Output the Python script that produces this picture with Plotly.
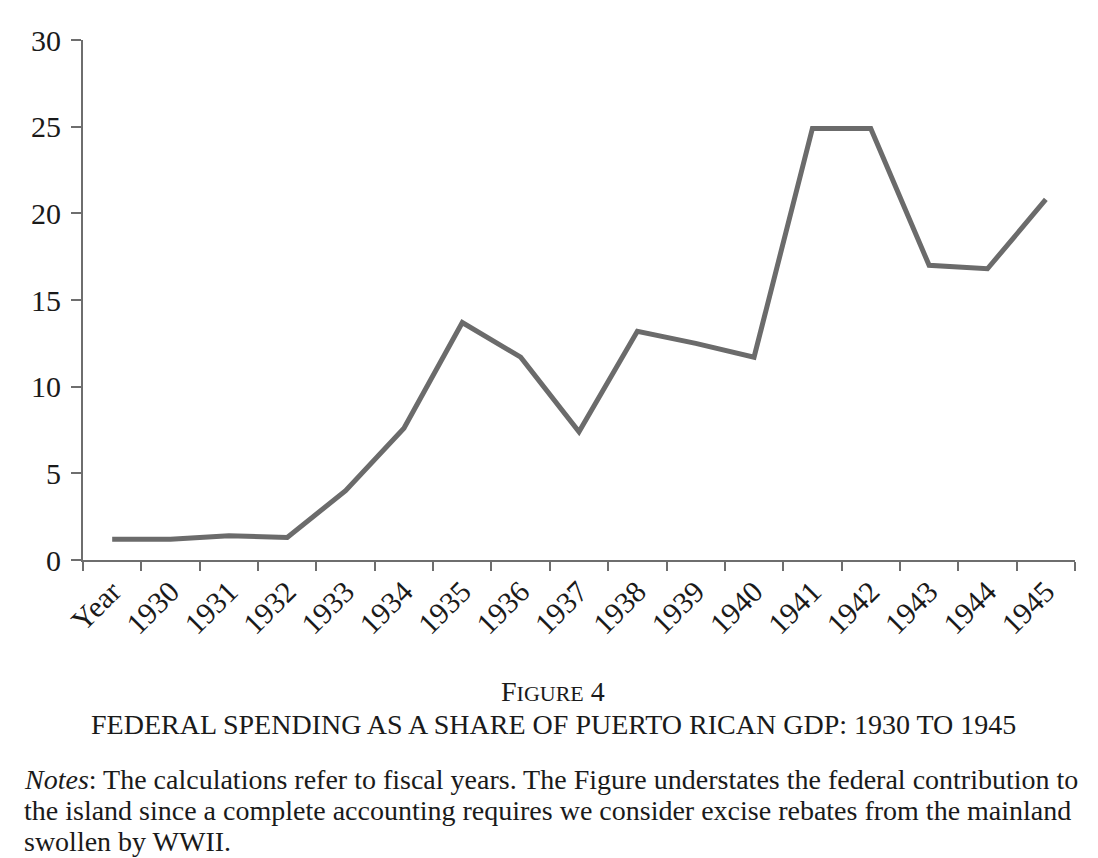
import plotly.graph_objects as go

categories = ["Year", "1930", "1931", "1932", "1933", "1934", "1935", "1936", "1937",
              "1938", "1939", "1940", "1941", "1942", "1943", "1944", "1945"]
values = [1.2, 1.2, 1.4, 1.3, 4.0, 7.6, 13.7, 11.7, 7.4,
          13.2, 12.5, 11.7, 24.9, 24.9, 17.0, 16.8, 20.8]
y_ticks = [0, 5, 10, 15, 20, 25, 30]

caption_line1 = "F<span style='font-size:22px'>IGURE</span> 4"
caption_line2 = "FEDERAL SPENDING AS A SHARE OF PUERTO RICAN GDP: 1930 TO 1945"
notes_lines = [
    "<i>Notes</i>: The calculations refer to fiscal years. The Figure understates the federal contribution to",
    "the island since a complete accounting requires we consider excise rebates from the mainland",
    "swollen by WWII.",
]

FONT = "Liberation Serif"
AXIS = "#6e6e6e"
TEXT = "#1a1a1a"

# page has an 8px body margin
OFF = 8
W, H = 1098 - 2 * OFF, 858 - OFF
PL, PR, PT, PB = 83, 1075, 40, 560  # plot area in page pixels
ml, mr, mt, mb = PL - OFF, (W + OFF) - PR, PT - OFF, (H + OFF) - PB
pw, ph = PR - PL, PB - PT

fig = go.Figure()
fig.add_trace(go.Scatter(
    x=categories, y=values, mode="lines",
    line=dict(color="#6b6b6b", width=5),
    hoverinfo="x+y",
))

fig.update_layout(
    width=W, height=H,
    margin=dict(l=ml, r=mr, t=mt, b=mb, autoexpand=False),
    paper_bgcolor="white", plot_bgcolor="white",
    showlegend=False,
    font=dict(family=FONT, color=TEXT),
    xaxis=dict(
        type="category", categoryorder="array", categoryarray=categories,
        range=[-0.5, len(categories) - 0.5],
        tickson="boundaries", ticks="outside", ticklen=9, tickwidth=2, tickcolor=AXIS,
        showline=True, linecolor=AXIS, linewidth=2,
        showgrid=False, zeroline=False,
        tickangle=-45, tickfont=dict(family=FONT, size=30, color=TEXT),
    ),
    yaxis=dict(
        range=[0, 30], tickvals=y_ticks,
        ticks="outside", ticklen=10, tickwidth=2, tickcolor=AXIS,
        showline=True, linecolor=AXIS, linewidth=2,
        showgrid=False, zeroline=False,
        ticklabelstandoff=4,
        tickfont=dict(family=FONT, size=30, color=TEXT),
    ),
)

# (text, page x, page y centre, anchor, size)
texts = [
    (caption_line1, 553, 691, "center", 28),
    (caption_line2, 553, 724, "center", 28),
]
for i, line in enumerate(notes_lines):
    texts.append((line, 22, 779 + 31 * i, "left", 28))

for txt, px, py, anchor, size in texts:
    fig.add_annotation(
        text=txt, xref="paper", yref="paper",
        x=(px - PL) / pw, y=1 - (py - PT) / ph,
        xanchor=anchor, yanchor="middle", showarrow=False,
        font=dict(family=FONT, size=size, color=TEXT),
    )

fig.write_html("out.html")
